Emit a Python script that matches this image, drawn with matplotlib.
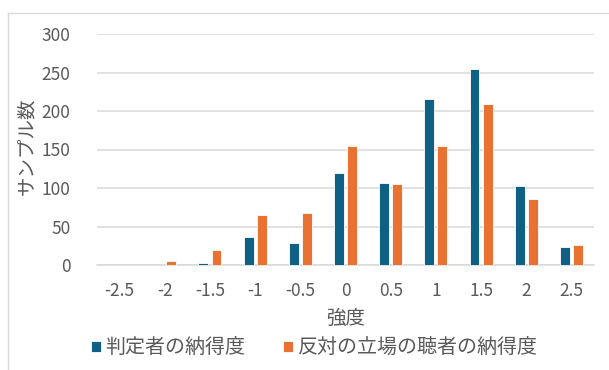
import matplotlib.pyplot as plt
import numpy as np
from matplotlib.lines import Line2D

plt.rcParams['font.family'] = ['Noto Sans CJK JP', 'DejaVu Sans']

categories = ['-2.5', '-2', '-1.5', '-1', '-0.5', '0', '0.5', '1', '1.5', '2', '2.5']
judge = [0, 0, 3, 36, 29, 120, 107, 216, 254, 103, 24]        # 判定者の納得度
opponent = [0, 5, 20, 65, 68, 155, 105, 154, 209, 86, 26]     # 反対の立場の聴者の納得度
yticks = [0, 50, 100, 150, 200, 250, 300]

blue = '#0F6085'
orange = '#E97132'
gray_text = '#595959'
grid_col = '#D9D9D9'

fig = plt.figure(figsize=(6.09, 3.70), dpi=100)
ax = fig.add_axes([97 / 609, 1 - 265 / 370, 497 / 609, 231 / 370])

x = np.arange(len(categories))
w = 0.22
ax.bar(x - 0.145, judge, width=w, color=blue, edgecolor='white', linewidth=0.6,
       label='判定者の納得度', zorder=3)
ax.bar(x + 0.145, opponent, width=w, color=orange, edgecolor='white', linewidth=0.6,
       label='反対の立場の聴者の納得度', zorder=3)

ax.set_xlim(-0.5, len(categories) - 0.5)
ax.set_ylim(0, 300)
ax.set_yticks(yticks)
ax.set_xticks(x)
ax.set_xticklabels(categories)
ax.yaxis.grid(True, color=grid_col, linewidth=1.1, zorder=0)
ax.set_axisbelow(True)
for s in ['top', 'right', 'left']:
    ax.spines[s].set_visible(False)
ax.spines['bottom'].set_color(grid_col)
ax.spines['bottom'].set_linewidth(1.1)
ax.tick_params(axis='both', length=0, labelsize=12.5, labelcolor=gray_text)
ax.tick_params(axis='y', pad=19)
ax.tick_params(axis='x', pad=12)

ax.set_xlabel('強度', fontsize=14, color=gray_text, labelpad=6)
fig.text(27 / 609, 1 - 146 / 370, 'サンプル数', rotation=90, fontsize=14,
         color=gray_text, ha='center', va='center')

leg = fig.legend(loc='center', bbox_to_anchor=(314 / 609, 1 - 348 / 370), ncol=2,
                 frameon=False, fontsize=14.4, handlelength=0.5, handleheight=0.5,
                 handletextpad=0.25, columnspacing=1.85, labelcolor=gray_text,
                 borderpad=0, borderaxespad=0)

# chart border (only left and top visible in the crop)
fig.add_artist(Line2D([7.5 / 609, 7.5 / 609], [0, 1 - 13 / 370], transform=fig.transFigure,
                      color=grid_col, linewidth=1))
fig.add_artist(Line2D([7.5 / 609, 1], [1 - 13 / 370, 1 - 13 / 370], transform=fig.transFigure,
                      color=grid_col, linewidth=1))

fig.savefig('out.png', dpi=100)
